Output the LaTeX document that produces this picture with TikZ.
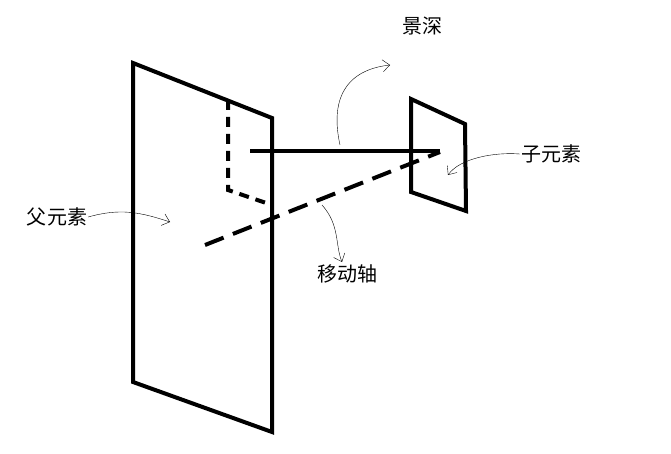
\documentclass[tikz,border=0pt]{standalone}
\usepackage{fontspec}
\setmainfont{Noto Sans CJK SC}
\usetikzlibrary{positioning,arrows.meta}

\begin{document}
\begin{tikzpicture}[x=1pt,y=-1pt,
    panel/.style={line width=4pt, line join=miter},
    axis/.style={line width=4pt},
    pointer/.style={thin,-{Straight Barb[length=7pt,width=12pt]}},
    label/.style={font=\fontsize{20}{24}\selectfont, inner sep=1pt}
]
\useasboundingbox (0,0) rectangle (671,454);

% parent plane
\draw[panel] (133,63) -- (272,118) -- (272,432) -- (133,382) -- cycle;
\draw[axis,dashed,dash pattern=on 10pt off 7pt] (228,100) -- (228,190) -- (272,205);

% child plane
\draw[panel] (411,99) -- (465,124) -- (466,211) -- (411,192) -- cycle;

% axes
\coordinate (sa) at (250,151);
\coordinate (sb) at (440,151);
\coordinate (da) at (205,245);
\coordinate (db) at (440,152);
\draw[axis] (sa) -- (sb);
\draw[axis,dash pattern=on 20pt off 10pt] (da) -- (db);

% labels
\node[label] (depth) at (422,26) {景深};
\node[label] (child) at (551,154) {子元素};
\node[label] (parent) at (57,217) {父元素};
\node[label] (move) at (347,274) {移动轴};

% pointers
\coordinate (p1) at (170,222);
\coordinate (p2) at (448,175);
\coordinate (p3) at (390,65);
\coordinate (p4) at (342,262);
\draw[pointer] (parent.east) .. controls (120,208) and (140,212) .. (p1);
\draw[pointer] (child.west) .. controls (495,152) and (460,158) .. (p2);
\draw[pointer] (340,145) .. controls (330,100) and (345,70) .. (p3);
\draw[pointer] (322,205) .. controls (340,225) and (335,245) .. (p4);
\end{tikzpicture}
\end{document}
